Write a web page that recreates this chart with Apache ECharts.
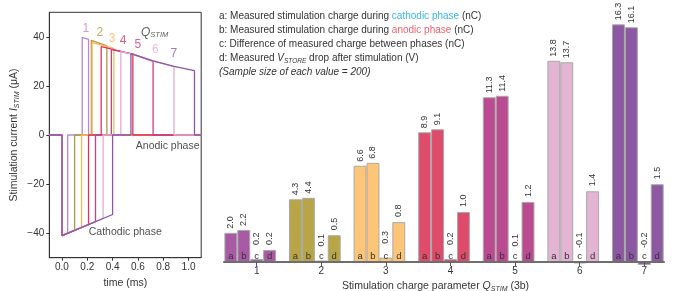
<!DOCTYPE html>
<html lang="en">
<head>
<meta charset="UTF-8">
<title>Stimulation charge</title>
<script src="https://cdn.jsdelivr.net/npm/echarts@6/dist/echarts.min.js"></script>
<style>html,body{margin:0;padding:0;background:#fff;}</style>
</head>
<body>
<div id="main" style="width:673px;height:291px;"></div>
<script type="text/javascript">
// ---- data: left panel (time in ms, current in uA), vertices ----
var trace1 = [[-0.1,0],[0,0],[0,-41],[0.045,-40],[0.045,0],[0.16,0],[0.16,39.8],[0.21,39],[0.21,0],[1.1,0]];
var trace2 = [[-0.1,0],[0,0],[0,-41],[0.10,-38.9],[0.10,0],[0.232,0],[0.232,38.6],[0.355,36.3],[0.355,0],[1.1,0]];
var trace3 = [[-0.1,0],[0,0],[0,-41],[0.155,-37.7],[0.155,0],[0.238,0],[0.238,37.6],[0.41,35.3],[0.41,0],[1.1,0]];
var trace4 = [[-0.1,0],[0,0],[0,-41],[0.21,-36.5],[0.21,0],[0.31,0],[0.31,36],[0.56,33],[0.56,0],[1.1,0]];
var trace5 = [[-0.1,0],[0,0],[0,-41],[0.265,-35.3],[0.265,0],[0.39,0],[0.39,34.8],[0.56,33],[0.72,30],[0.72,0],[1.1,0]];
var trace6 = [[-0.1,0],[0,0],[0,-41],[0.325,-34],[0.325,0],[0.465,0],[0.465,34],[0.56,33],[0.72,30.1],[0.885,27.9],[0.885,0],[1.1,0]];
var trace7 = [[-0.1,0],[0,0],[0,-41],[0.40,-32.4],[0.40,0],[0.545,0],[0.545,33.2],[0.72,30.2],[0.885,28],[1.047,26.2],[1.047,0],[1.1,0]];
var traces = [trace1, trace2, trace3, trace4, trace5, trace6, trace7];
var traceNames = ['1','2','3','4','5','6','7'];
var traceLabelAt = [[0.189,43.5],[0.30,41.5],[0.396,39.2],[0.483,38.5],[0.60,37],[0.738,34.7],[0.884,33]];
var timeTicks = [0, 0.2, 0.4, 0.6, 0.8, 1.0];
var currentTicks = [-40, -20, 0, 20, 40];

// ---- data: right panel ----
var groups = ['1','2','3','4','5','6','7'];
var letters = ['a','b','c','d',''];
var chargeCathodic = [2.0, 4.3, 6.6, 8.9, 11.3, 13.8, 16.3];   // a (nC)
var chargeAnodic   = [2.2, 4.4, 6.8, 9.1, 11.4, 13.7, 16.1];   // b (nC)
var chargeDiff     = [0.2, 0.1, 0.3, 0.2, 0.1, -0.1, -0.2];    // c (nC)
var vstoreDrop     = [0.24, 0.53, 0.79, 0.99, 1.19, 1.40, 1.54]; // d (V)

// ---- styles ----
var FONT = '"Liberation Sans", Arial, sans-serif';
var lineColors = ['#bd86c9', '#ab9b3c', '#f8b55a', '#e2325c', '#c2418a', '#e9a9d1', '#8e52a8'];
var groupColors = ['#a85aa4', '#b8a548', '#fdc577', '#de4b6b', '#bb4b91', '#e4b4d3', '#8d58a2'];
var NC_PX = 14.58, V_PX = 50.5;          // px per nC, px per V in the bar panel
var BAR_TOP = 14.14, BAR_H = 17 * NC_PX; // value range 0..17 nC, baseline = grid bottom
var BW = 452.2 / 7 / 5;

var chart = echarts.init(document.getElementById('main'));

var series = [];
traces.forEach(function (t, i) {
  series.push({
    type: 'line', xAxisIndex: 0, yAxisIndex: 0, data: t,
    symbol: 'none', lineStyle: { color: lineColors[i], width: 1.3 }, z: 2 + i
  });
});
var notes = traceNames.map(function (n, i) {
  return { name: n, value: traceLabelAt[i], label: { color: lineColors[i], fontSize: 12 } };
});
notes.push({ name: '{q|Q}{s|STIM}', value: [0.732, 41.9] });
notes.push({ name: 'Anodic phase', value: [0.835, -4.4], label: { fontSize: 10.5, color: '#222' } });
notes.push({ name: 'Cathodic phase', value: [0.5, -39.5], label: { fontSize: 10.5, color: '#222' } });
series.push({
  type: 'scatter', xAxisIndex: 0, yAxisIndex: 0, symbolSize: 1,
  itemStyle: { color: 'rgba(0,0,0,0)' }, data: notes, z: 20,
  label: {
    show: true, position: 'inside', fontFamily: FONT, color: '#222',
    formatter: function (p) { return p.name; },
    rich: {
      q: { fontSize: 12, fontStyle: 'italic', color: '#333', fontFamily: FONT, lineHeight: 14 },
      s: { fontSize: 7.5, fontStyle: 'italic', color: '#333', fontFamily: FONT, verticalAlign: 'bottom', lineHeight: 9 }
    }
  }
});

function barSeries(name, values, yIdx, dist) {
  return {
    name: name, type: 'bar', xAxisIndex: 1, yAxisIndex: yIdx,
    barWidth: BW, barGap: '0%', clip: false,
    data: values.map(function (v, i) { return { value: v, itemStyle: { color: groupColors[i] } }; }),
    itemStyle: { borderColor: '#a8a8a8', borderWidth: 1 },
    label: {
      show: true, position: 'top', distance: dist, rotate: 90, align: 'left', verticalAlign: 'middle',
      fontSize: 9, color: '#333', fontFamily: FONT,
      formatter: function (p) { return p.value.toFixed(1); }
    }
  };
}
series.push(barSeries('a', chargeCathodic, 1, 4));
series.push(barSeries('b', chargeAnodic, 1, 4));
series.push(barSeries('c', chargeDiff, 1, 14));
series.push(barSeries('d', vstoreDrop, 2, 5));
series.push({ name: 'spacer', type: 'bar', xAxisIndex: 1, yAxisIndex: 1, barWidth: BW, barGap: '0%', data: [] });

var letterCats = [];
groups.forEach(function () { letters.forEach(function (l) { letterCats.push(l); }); });

var axisText = { fontFamily: FONT, color: '#333', fontSize: 10 };
var subRich = {
  i: { fontSize: 10.5, fontStyle: 'italic', color: '#333', fontFamily: FONT, lineHeight: 13 },
  s: { fontSize: 7, fontStyle: 'italic', color: '#333', fontFamily: FONT, verticalAlign: 'bottom', lineHeight: 8 },
  t: { fontSize: 10.5, color: '#333', fontFamily: FONT, lineHeight: 13 }
};
var legendBase = { fontSize: 10, fontWeight: 'normal', color: '#333', fontFamily: FONT, lineHeight: 14 };

var option = {
  animation: false,
  backgroundColor: '#fff',
  title: {
    left: 219, top: 9, padding: 0,
    text: [
      '{t|a: Measured stimulation charge during }{blue|cathodic phase}{t| (nC)}',
      '{t|b: Measured stimulation charge during }{red|anodic phase}{t| (nC)}',
      '{t|c: Difference of measured charge between phases (nC)}',
      '{t|d: Measured }{v|V}{sub|STORE}{t| drop after stimulation (V)}',
      '{it|(Sample size of each value = 200)}'
    ].join('\n'),
    textStyle: {
      fontWeight: 'normal',
      rich: {
        t: legendBase,
        blue: Object.assign({}, legendBase, { color: '#3bb3e6' }),
        red: Object.assign({}, legendBase, { color: '#f2606c' }),
        v: Object.assign({}, legendBase, { fontStyle: 'italic' }),
        sub: Object.assign({}, legendBase, { fontSize: 6.5, fontStyle: 'italic', verticalAlign: 'bottom', lineHeight: 8 }),
        it: Object.assign({}, legendBase, { fontStyle: 'italic' })
      }
    }
  },
  grid: [
    { left: 49.3, top: 12.3, width: 151.9, height: 245.4, show: true, borderColor: '#333', borderWidth: 1, outerBoundsMode: 'none' },
    { left: 224.4, top: BAR_TOP, width: 452.2, height: BAR_H, outerBoundsMode: 'none' },
    { left: 224, top: BAR_TOP, width: 440, height: BAR_H, outerBoundsMode: 'none' }
  ],
  xAxis: [
    {
      gridIndex: 0, type: 'value', min: -0.1, max: 1.1,
      name: 'time (ms)', nameLocation: 'middle', nameGap: 20,
      nameTextStyle: { fontFamily: FONT, color: '#333', fontSize: 10.5 },
      axisLine: { onZero: false, lineStyle: { color: '#333' } },
      axisTick: { show: true, length: 3, customValues: timeTicks, lineStyle: { color: '#333' } },
      axisLabel: Object.assign({ margin: 5, customValues: timeTicks,
        formatter: function (v) { return v.toFixed(1); } }, axisText),
      splitLine: { show: false }
    },
    {
      gridIndex: 1, type: 'category', data: groups, position: 'bottom', z: 10,
      name: 'Stimulation charge parameter {i|Q}{s|STIM} (3b)', nameLocation: 'middle', nameGap: 13,
      nameTextStyle: { fontFamily: FONT, color: '#333', fontSize: 10.5, padding: [0, 30, 0, 0], rich: subRich },
      axisLine: { show: false, onZero: false },
      axisTick: { show: true, alignWithLabel: true, length: 4, lineStyle: { color: '#555' } },
      axisLabel: Object.assign({ margin: 4 }, axisText),
      splitLine: { show: false }
    },
    {
      gridIndex: 1, type: 'category', data: letterCats, position: 'bottom', z: 10,
      axisLine: { show: false, onZero: false }, axisTick: { show: false },
      axisLabel: { inside: true, interval: 0, margin: 1, fontSize: 9.5, color: '#333', fontFamily: FONT },
      splitLine: { show: false }
    },
    {
      gridIndex: 2, type: 'value', min: 0, max: 1, position: 'bottom', z: 10,
      axisLine: { show: true, onZero: false, lineStyle: { color: '#6e6e6e', width: 2 } },
      axisTick: { show: false }, axisLabel: { show: false }, splitLine: { show: false }
    }
  ],
  yAxis: [
    {
      gridIndex: 0, type: 'value', min: -50, max: 50,
      name: 'Stimulation current {i|I}{s|STIM} (μA)', nameLocation: 'middle', nameGap: 29,
      nameTextStyle: { fontFamily: FONT, color: '#333', fontSize: 10.5, rich: subRich },
      axisLine: { onZero: false, lineStyle: { color: '#333' } },
      axisTick: { show: true, length: 3, customValues: currentTicks, lineStyle: { color: '#333' } },
      axisLabel: Object.assign({ margin: 5, customValues: currentTicks,
        formatter: function (v) { return v < 0 ? '\u2212' + (-v) : String(v); } }, axisText),
      splitLine: { show: false }
    },
    { gridIndex: 1, type: 'value', min: 0, max: 17, show: false },
    { gridIndex: 1, type: 'value', min: 0, max: 17 * NC_PX / V_PX, show: false },
    { gridIndex: 2, type: 'value', min: 0, max: 17, show: false }
  ],
  series: series
};

chart.setOption(option);
</script>
</body>
</html>
